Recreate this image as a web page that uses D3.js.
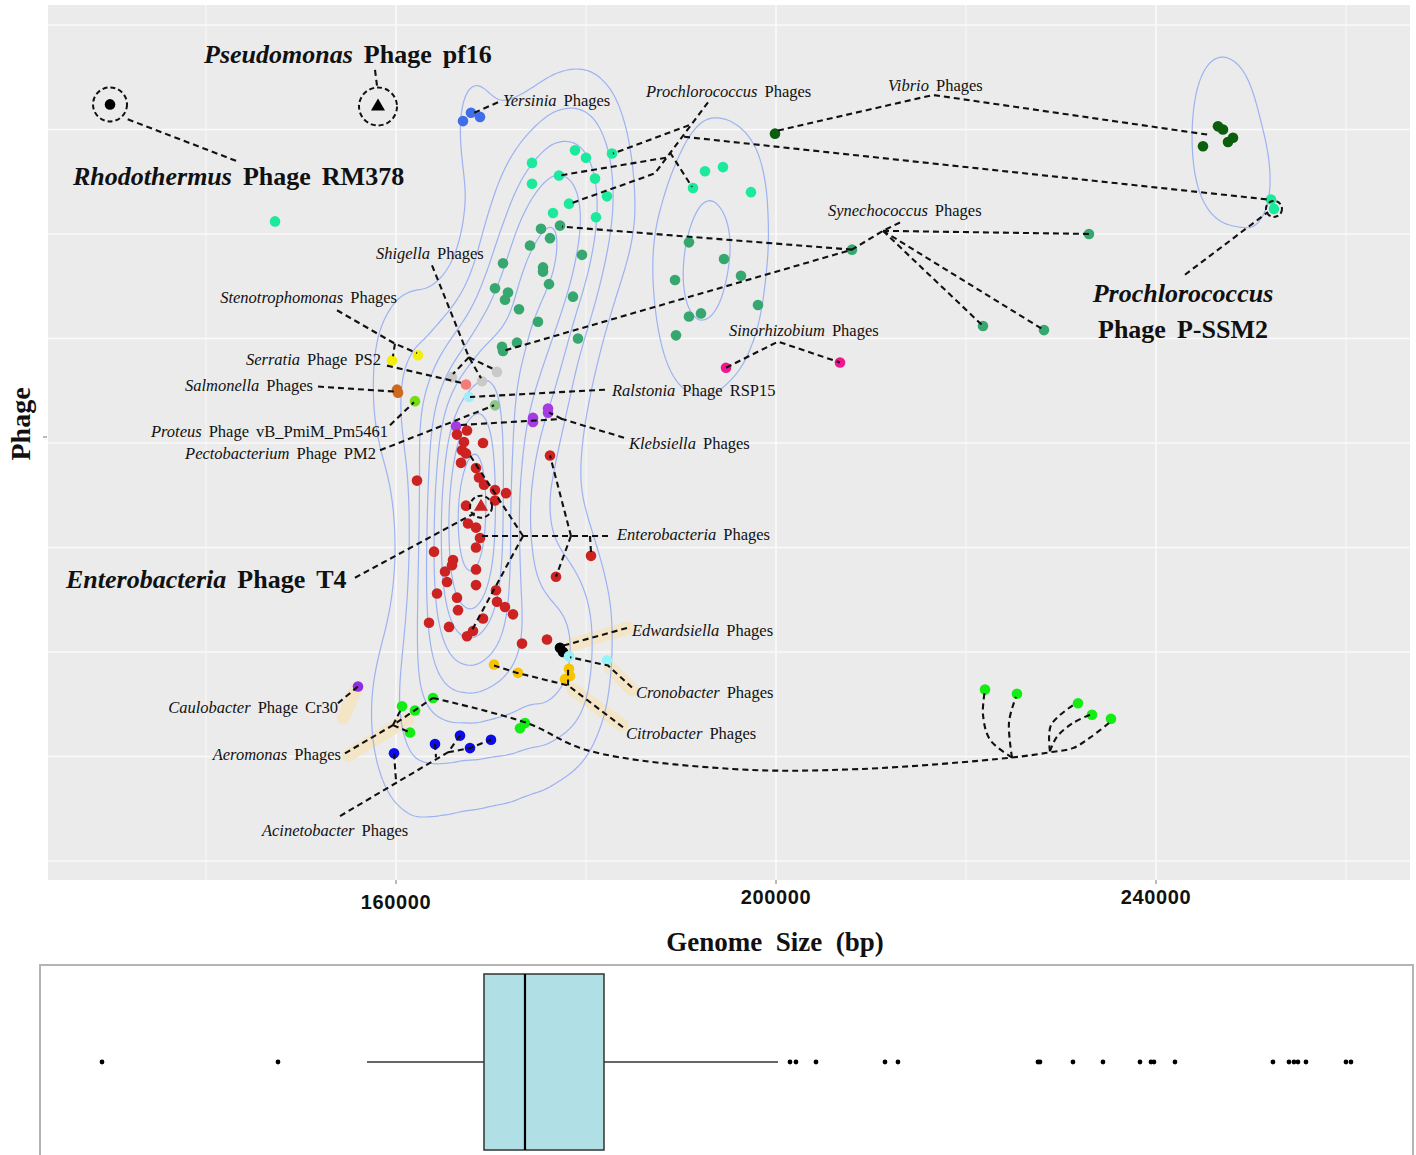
<!DOCTYPE html>
<html>
<head>
<meta charset="utf-8">
<script src="https://cdn.jsdelivr.net/npm/d3@7"></script>
<style>
body { margin: 0; background: #fff; }
svg { display: block; }
text { font-family: "Liberation Serif", "Times New Roman", serif; }
</style>
</head>
<body>
<svg id="chart" width="1416" height="1155"></svg>
<script>
/* global d3 */

/////////////////////////////////////////////////////////////////////////
// data : [genome size (bp), vertical position]

var prochlorococcusPhages = [[147264,6.12],[178842,6.80],[180000,6.73],[182736,6.77],[174315,6.68],[177157,6.56],[180947,6.53],[174315,6.48],[182210,6.36],[178210,6.29],[176526,6.20],[181052,6.16],[191262,6.44],[192525,6.60],[194420,6.64],[197367,6.40],[252103,6.33],[252418,6.24]]
var synechococcusPhages = [[177263,6.08],[175263,6.05],[176210,5.96],[174105,5.89],[179578,5.80],[171263,5.72],[175473,5.68],[175473,5.64],[176105,5.52],[170421,5.48],[171789,5.44],[171473,5.37],[178631,5.40],[172947,5.28],[174947,5.16],[179157,5.00],[172736,4.96],[171158,4.92],[171263,4.88],[190841,5.92],[194525,5.76],[196315,5.60],[189368,5.56],[198104,5.32],[192104,5.24],[190841,5.21],[189473,5.03],[208000,5.85],[232945,6.00],[221788,5.12],[228209,5.08]]
var vibrioPhages = [[199894,6.96],[246524,7.03],[247050,7.00],[244945,6.84],[247576,6.88],[248103,6.92]]
var yersiniaPhages = [[167052,7.08],[167894,7.16],[168842,7.12]]
var sinorhizobiumPhages = [[194736,4.72],[206735,4.77]]
var stenotrophomonasPhages = [[159579,4.79],[162316,4.84]]
var shigellaPhages = [[165895,4.63],[169052,4.59],[170631,4.68]]
var serratiaPS2 = [[167368,4.56]]
var ralstoniaRSP15 = [[167684,4.44]]
var salmonellaPhages = [[160105,4.51],[160210,4.48]]
var proteusPm5461 = [[162000,4.40]]
var pectobacteriumPM2 = [[170421,4.36]]
var klebsiellaPhages = [[176000,4.33],[176000,4.29],[174421,4.24],[174421,4.20],[166316,4.16]]
var enterobacteriaPhages = [[166421,4.08],[167473,4.12],[167158,4.01],[166947,3.93],[167368,3.90],[166842,3.81],[169158,4.00],[162210,3.64],[168421,3.76],[168737,3.67],[169263,3.60],[170421,3.55],[171579,3.52],[170421,3.45],[167368,3.40],[167579,3.23],[168421,3.19],[168842,3.09],[168421,3.00],[164000,2.96],[166000,2.88],[165895,2.83],[165158,2.77],[165368,2.67],[168421,2.79],[168421,2.64],[164316,2.56],[166421,2.52],[170526,2.59],[170631,2.48],[171473,2.43],[172316,2.36],[166526,2.40],[169158,2.32],[163474,2.28],[165579,2.24],[167473,2.15],[168105,2.20],[173263,2.08],[175894,2.12],[176210,3.88],[180526,2.92],[176842,2.72]]
var edwardsiellaPhages = [[177263,2.04],[177579,2.00]]
var cronobacterPhages = [[178210,1.96],[182210,1.92]]
var citrobacterPhages = [[170315,1.88],[172842,1.80],[178210,1.84],[177789,1.74],[178315,1.77]]
var caulobacterCr30 = [[156000,1.67]]
var aeromonasPhages = [[160632,1.48],[162000,1.44],[163895,1.56],[161474,1.23],[173052,1.27],[173579,1.32],[222000,1.64],[225368,1.60],[231789,1.51],[233263,1.40],[235263,1.36]]
var acinetobacterPhages = [[159790,1.03],[164105,1.12],[166737,1.20],[167789,1.08],[170000,1.16]]
var rhodothermusRM378 = [[129895,7.24]]
var pseudomonasPf16 = [[158105,7.22]]
var enterobacteriaT4 = [[168947,3.39]]

// boxplot of genome sizes (bp)
var boxStats = { low: 155888, q1: 167359, median: 171379, q3: 179124, high: 196183 }
var boxOutliers = [129908,147163,197359,197947,199908,206673,207947,221673,221869,225104,228045,231673,232751,233045,235104,244712,246281,246771,247163,247947,251869,252359]

var xTicks = [160000, 200000, 240000]
var xGrid = [140000, 160000, 180000, 200000, 220000, 240000, 260000]
var yGrid = [0, 1, 2, 3, 4, 5, 6, 7, 8]

var groups = [
	{ data: prochlorococcusPhages, color: '#1be99b' },
	{ data: synechococcusPhages, color: '#36a86f' },
	{ data: vibrioPhages, color: '#0b5e0b' },
	{ data: yersiniaPhages, color: '#3f6ee8' },
	{ data: sinorhizobiumPhages, color: '#f2168e' },
	{ data: stenotrophomonasPhages, color: '#f2ee0c' },
	{ data: shigellaPhages, color: '#c9c9c9' },
	{ data: serratiaPS2, color: '#f27c78' },
	{ data: ralstoniaRSP15, color: '#a4eafb' },
	{ data: salmonellaPhages, color: '#cf691f' },
	{ data: proteusPm5461, color: '#74de12' },
	{ data: pectobacteriumPM2, color: '#8dc58d' },
	{ data: klebsiellaPhages, color: '#a53ce2' },
	{ data: enterobacteriaPhages, color: '#cc2222' },
	{ data: edwardsiellaPhages, color: '#000000' },
	{ data: cronobacterPhages, color: '#98f3f8' },
	{ data: citrobacterPhages, color: '#f6c400' },
	{ data: caulobacterCr30, color: '#8e2ee0' },
	{ data: aeromonasPhages, color: '#14ec14' },
	{ data: acinetobacterPhages, color: '#0b0beb' },
	{ data: rhodothermusRM378, color: '#000000' },
	{ data: pseudomonasPf16, color: '#000000', shape: 'triangle' },
	{ data: enterobacteriaT4, color: '#cc2222', shape: 'triangle' }
]

/////////////////////////////////////////////////////////////////////////
// annotations, positions in kbp / vertical units

var labels = [
	{ t: [['Yersinia',1],['Phages']], p: [171.26,7.22] },
	{ t: [['Prochlorococcus',1],['Phages']], p: [186.32,7.31] },
	{ t: [['Vibrio',1],['Phages']], p: [211.79,7.37] },
	{ t: [['Synechococcus',1],['Phages']], p: [205.47,6.17] },
	{ t: [['Shigella',1],['Phages']], p: [157.89,5.76] },
	{ t: [['Stenotrophomonas',1],['Phages']], p: [160.11,5.34], a: 'end' },
	{ t: [['Serratia',1],['Phage'],['PS2']], p: [158.42,4.75], a: 'end' },
	{ t: [['Sinorhizobium',1],['Phages']], p: [195.05,5.02] },
	{ t: [['Salmonella',1],['Phages']], p: [151.26,4.50], a: 'end' },
	{ t: [['Ralstonia',1],['Phage'],['RSP15']], p: [182.74,4.45] },
	{ t: [['Proteus',1],['Phage'],['vB_PmiM_Pm5461']], p: [159.16,4.06], a: 'end' },
	{ t: [['Klebsiella',1],['Phages']], p: [184.53,3.94] },
	{ t: [['Pectobacterium',1],['Phage'],['PM2']], p: [157.89,3.85], a: 'end' },
	{ t: [['Enterobacteria',1],['Phages']], p: [183.26,3.07] },
	{ t: [['Edwardsiella',1],['Phages']], p: [184.84,2.15] },
	{ t: [['Cronobacter',1],['Phages']], p: [185.26,1.56] },
	{ t: [['Caulobacter',1],['Phage'],['Cr30']], p: [153.89,1.42], a: 'end' },
	{ t: [['Citrobacter',1],['Phages']], p: [184.21,1.17] },
	{ t: [['Aeromonas',1],['Phages']], p: [154.21,0.97], a: 'end' },
	{ t: [['Acinetobacter',1],['Phages']], p: [145.89,0.24] },
	{ t: [['Pseudomonas',1],['Phage'],['pf16']], p: [139.79,7.64], big: true },
	{ t: [['Rhodothermus',1],['Phage'],['RM378']], p: [126.0,6.47], big: true },
	{ t: [['Enterobacteria',1],['Phage'],['T4']], p: [125.26,2.61], big: true },
	{ t: [['Prochlorococcus',1]], p: [242.84,5.35], a: 'middle', big: true },
	{ t: [['Phage'],['P-SSM2']], p: [242.84,5.00], a: 'middle', big: true }
]

var leaders = [
	[[170.74,7.26],[168.00,7.15]],
	[[192.84,7.26],[187.26,6.58],[178.32,6.29]],
	[[190.84,7.04],[182.84,6.77]],
	[[190.32,6.93],[251.79,6.33]],
	[[188.42,6.73],[177.26,6.56]],
	[[188.84,6.78],[191.16,6.45]],
	[[200.21,6.99],[216.53,7.33],[245.47,6.95]],
	[[213.05,6.11],[211.26,6.03],[208.0,5.85],[171.26,4.88]],
	[[208.0,5.85],[177.47,6.07]],
	[[211.26,6.03],[232.95,6.00]],
	[[211.26,6.03],[221.79,5.12]],
	[[211.26,6.03],[228.21,5.08]],
	[[163.79,5.70],[167.68,4.82],[168.95,4.62]],
	[[167.68,4.82],[166.0,4.66]],
	[[167.68,4.82],[170.42,4.70]],
	[[153.79,5.27],[159.89,4.95],[162.21,4.86]],
	[[159.89,4.95],[159.68,4.83]],
	[[159.05,4.74],[167.16,4.57]],
	[[151.79,4.54],[160.11,4.49]],
	[[159.37,4.17],[161.89,4.39]],
	[[158.32,3.93],[170.32,4.36]],
	[[182.0,4.51],[167.79,4.44]],
	[[184.0,4.05],[177.47,4.23],[166.42,4.17]],
	[[177.47,4.23],[176.11,4.29]],
	[[182.32,3.11],[169.05,3.11]],
	[[173.37,3.11],[167.58,3.91]],
	[[173.37,3.11],[168.0,2.21]],
	[[178.42,3.11],[176.21,3.88]],
	[[178.42,3.11],[176.84,2.72]],
	[[180.42,3.11],[180.53,2.95]],
	[[184.32,2.23],[177.58,2.06]],
	[[184.84,1.66],[182.32,1.87],[178.32,1.95]],
	[[183.89,1.28],[178.11,1.68],[172.74,1.80],[170.32,1.87]],
	[[178.11,1.68],[178.11,1.83]],
	[[153.89,1.51],[156.0,1.67]],
	[[154.63,1.03],[159.68,1.30],[163.89,1.56]],
	[[159.68,1.30],[160.63,1.47]],
	[[159.68,1.30],[161.47,1.23]],
	[[154.11,0.43],[165.47,1.04],[166.74,1.20]],
	[[165.47,1.04],[167.79,1.08],[170.0,1.16]],
	[[159.79,1.03],[160.0,0.77]],
	[[164.11,1.12],[164.21,0.99]],
	[[194.74,4.72],[200.21,4.97],[206.74,4.77]],
	[[157.79,7.57],[158.0,7.42]],
	[[143.16,6.70],[131.68,7.10]],
	[[155.68,2.71],[168.32,3.33]],
	[[243.05,5.61],[251.79,6.21]]
]

var curvedLeaders = [
	[[163.89,1.56],[173.79,1.32],[180.11,1.06],[195.47,0.88],[208.84,0.88],[224.84,0.99],[228.84,1.04],[231.26,1.08],[233.05,1.18],[235.05,1.32]],
	[[224.84,0.99],[222.53,1.16],[221.79,1.40],[222.0,1.64]],
	[[224.84,0.99],[224.53,1.33],[225.26,1.57]],
	[[228.84,1.05],[228.95,1.30],[231.58,1.51]],
	[[228.84,1.05],[229.58,1.19],[231.26,1.32],[233.05,1.40]]
]

var shades = [
	[[155.79,1.64],[154.42,1.37]],
	[[154.95,1.01],[161.26,1.36]],
	[[178.53,2.07],[184.42,2.23]],
	[[182.53,1.85],[184.84,1.64]],
	[[178.63,1.64],[183.79,1.30]]
]

var rings = [
	{ at: rhodothermusRM378[0], r: 17 },
	{ at: pseudomonasPf16[0], r: 19 },
	{ at: enterobacteriaT4[0], r: 11 },
	{ at: prochlorococcusPhages[17], r: 8 }
]

/////////////////////////////////////////////////////////////////////////
// layout

var svg = d3.select('#chart')
var P = { left: 48, right: 1410, top: 5, bottom: 880 }
var B = { left: 40, right: 1413, top: 965, bottom: 1162, mid: 1062, half: 88 }

var x = d3.scaleLinear().domain([123368, 266737]).range([P.left, P.right])
var y = d3.scaleLinear().domain([-0.182, 8.191]).range([P.bottom, P.top])
var xb = d3.scaleLinear().domain([123830, 258440]).range([B.left, B.right])

var kx = function(d) { return x(d[0] * 1000) }
var ky = function(d) { return y(d[1]) }

svg.append('defs').append('clipPath').attr('id', 'panel')
	.append('rect').attr('x', P.left).attr('y', P.top)
	.attr('width', P.right - P.left).attr('height', P.bottom - P.top)

svg.append('rect')
	.attr('x', P.left).attr('y', P.top)
	.attr('width', P.right - P.left).attr('height', P.bottom - P.top)
	.attr('fill', '#ebebeb')

var grid = svg.append('g')
grid.selectAll('.gx').data(xGrid).enter().append('line')
	.attr('x1', function(d) { return x(d) }).attr('x2', function(d) { return x(d) })
	.attr('y1', P.top).attr('y2', P.bottom)
	.attr('stroke', '#fafafa')
	.attr('stroke-width', function(d) { return xTicks.indexOf(d) >= 0 ? 1.6 : 0.9 })
grid.selectAll('.gy').data(yGrid).enter().append('line')
	.attr('x1', P.left).attr('x2', P.right)
	.attr('y1', function(d) { return y(d) }).attr('y2', function(d) { return y(d) })
	.attr('stroke', '#fafafa').attr('stroke-width', 1.4)

var plot = svg.append('g').attr('clip-path', 'url(#panel)')

// beige shading behind some leader segments
var line = d3.line().x(kx).y(ky)
plot.selectAll('.shade').data(shades).enter().append('path')
	.attr('d', line)
	.attr('fill', 'none').attr('stroke', '#f3e5c6')
	.attr('stroke-width', 13).attr('stroke-linecap', 'round')

/////////////////////////////////////////////////////////////////////////
// 2d density contours

var allPts = []
groups.forEach(function(g) {
	g.data.forEach(function(d) { allPts.push({ bp: d[0], v: d[1] }) })
})

var ratio = 0.36
var pw = P.right - P.left, ph = P.bottom - P.top
var density = d3.contourDensity()
	.x(function(d) { return x(d.bp) - P.left })
	.y(function(d) { return (y(d.v) - P.top) * ratio })
	.size([pw, Math.round(ph * ratio)])
	.cellSize(2)
	.bandwidth(25)

var maxD
if (density.contours) {
	maxD = density.contours(allPts).max
} else {
	var tmp = density.thresholds(200)(allPts)
	maxD = tmp[tmp.length - 1].value
}
var step = maxD / 8.6
density.thresholds(d3.range(1, 9).map(function(i) { return i * step }))
var contours = density(allPts)

plot.append('g')
	.attr('transform', 'translate(' + P.left + ',' + P.top + ') scale(1,' + (1 / ratio) + ')')
	.selectAll('path').data(contours).enter().append('path')
	.attr('d', d3.geoPath())
	.attr('fill', 'none')
	.attr('stroke', '#9db2f2')
	.attr('stroke-width', 1.2)
	.attr('vector-effect', 'non-scaling-stroke')

/////////////////////////////////////////////////////////////////////////
// points

groups.forEach(function(g) {
	var sel = plot.append('g').selectAll('.pt').data(g.data).enter()
	if (g.shape === 'triangle') {
		sel.append('path')
			.attr('d', d3.symbol(d3.symbolTriangle, 85))
			.attr('transform', function(d) { return 'translate(' + x(d[0]) + ',' + y(d[1]) + ')' })
			.attr('fill', g.color)
	} else {
		sel.append('circle')
			.attr('cx', function(d) { return x(d[0]) })
			.attr('cy', function(d) { return y(d[1]) })
			.attr('r', 5.3)
			.attr('fill', g.color)
	}
})

// leader lines
plot.selectAll('.lead').data(leaders).enter().append('path')
	.attr('d', line)
	.attr('fill', 'none').attr('stroke', '#111')
	.attr('stroke-width', 2.1).attr('stroke-dasharray', '6,4')

var curve = d3.line().x(kx).y(ky).curve(d3.curveCatmullRom.alpha(0.5))
plot.selectAll('.curl').data(curvedLeaders).enter().append('path')
	.attr('d', curve)
	.attr('fill', 'none').attr('stroke', '#111')
	.attr('stroke-width', 2.1).attr('stroke-dasharray', '6,4')

plot.selectAll('.ring').data(rings).enter().append('circle')
	.attr('cx', function(d) { return x(d.at[0]) })
	.attr('cy', function(d) { return y(d.at[1]) })
	.attr('r', function(d) { return d.r })
	.attr('fill', 'none').attr('stroke', '#111')
	.attr('stroke-width', 2).attr('stroke-dasharray', '5,3')

// labels
labels.forEach(function(l) {
	var txt = svg.append('text')
		.attr('x', kx(l.p)).attr('y', ky(l.p))
		.attr('text-anchor', l.a || 'start')
		.attr('font-size', l.big ? 26 : 16.5)
		.attr('font-weight', l.big ? 'bold' : 'normal')
		.attr('fill', '#111')
	l.t.forEach(function(part, i) {
		txt.append('tspan')
			.attr('dx', i === 0 ? 0 : (l.big ? 11 : 7))
			.attr('font-style', part[1] ? 'italic' : 'normal')
			.text(part[0])
	})
})

/////////////////////////////////////////////////////////////////////////
// axes

svg.append('line').attr('x1', 43).attr('x2', 47).attr('y1', 437).attr('y2', 437)
	.attr('stroke', '#777').attr('stroke-width', 1)

svg.selectAll('.xt').data(xTicks).enter().append('line')
	.attr('x1', function(d) { return x(d) }).attr('x2', function(d) { return x(d) })
	.attr('y1', P.bottom).attr('y2', P.bottom + 4)
	.attr('stroke', '#777')

svg.selectAll('.xl').data(xTicks).enter().append('text')
	.attr('x', function(d) { return x(d) })
	.attr('y', function(d, i) { return i === 0 ? 909 : 904 })
	.attr('text-anchor', 'middle')
	.style('font-family', '"Liberation Sans", Arial, sans-serif')
	.attr('font-weight', 'bold').attr('font-size', 20)
	.attr('letter-spacing', 0.6)
	.attr('fill', '#111')
	.text(function(d) { return d })

svg.append('text')
	.attr('x', 775).attr('y', 951)
	.attr('text-anchor', 'middle')
	.attr('font-size', 27).attr('font-weight', 'bold')
	.attr('fill', '#111')
	.text('Genome\u2002Size\u2002(bp)')

svg.append('text')
	.attr('transform', 'translate(30,424) rotate(-90)')
	.attr('text-anchor', 'middle')
	.attr('font-size', 28).attr('font-weight', 'bold')
	.attr('fill', '#111')
	.text('Phage')

/////////////////////////////////////////////////////////////////////////
// boxplot panel

svg.append('rect')
	.attr('x', B.left).attr('y', B.top)
	.attr('width', B.right - B.left).attr('height', B.bottom - B.top)
	.attr('fill', '#fff').attr('stroke', '#b4b4b4').attr('stroke-width', 2)

var bx = svg.append('g')
bx.append('line')
	.attr('x1', xb(boxStats.low)).attr('x2', xb(boxStats.q1))
	.attr('y1', B.mid).attr('y2', B.mid)
	.attr('stroke', '#333').attr('stroke-width', 1.5)
bx.append('line')
	.attr('x1', xb(boxStats.q3)).attr('x2', xb(boxStats.high))
	.attr('y1', B.mid).attr('y2', B.mid)
	.attr('stroke', '#333').attr('stroke-width', 1.5)
bx.append('rect')
	.attr('x', xb(boxStats.q1)).attr('y', B.mid - B.half)
	.attr('width', xb(boxStats.q3) - xb(boxStats.q1)).attr('height', 2 * B.half)
	.attr('fill', '#b0dfe5').attr('stroke', '#333').attr('stroke-width', 1.5)
bx.append('line')
	.attr('x1', xb(boxStats.median)).attr('x2', xb(boxStats.median))
	.attr('y1', B.mid - B.half).attr('y2', B.mid + B.half)
	.attr('stroke', '#000').attr('stroke-width', 2.2)
bx.selectAll('.out').data(boxOutliers).enter().append('circle')
	.attr('cx', function(d) { return xb(d) })
	.attr('cy', B.mid)
	.attr('r', 2.4)
	.attr('fill', '#000')
</script>
</body>
</html>
